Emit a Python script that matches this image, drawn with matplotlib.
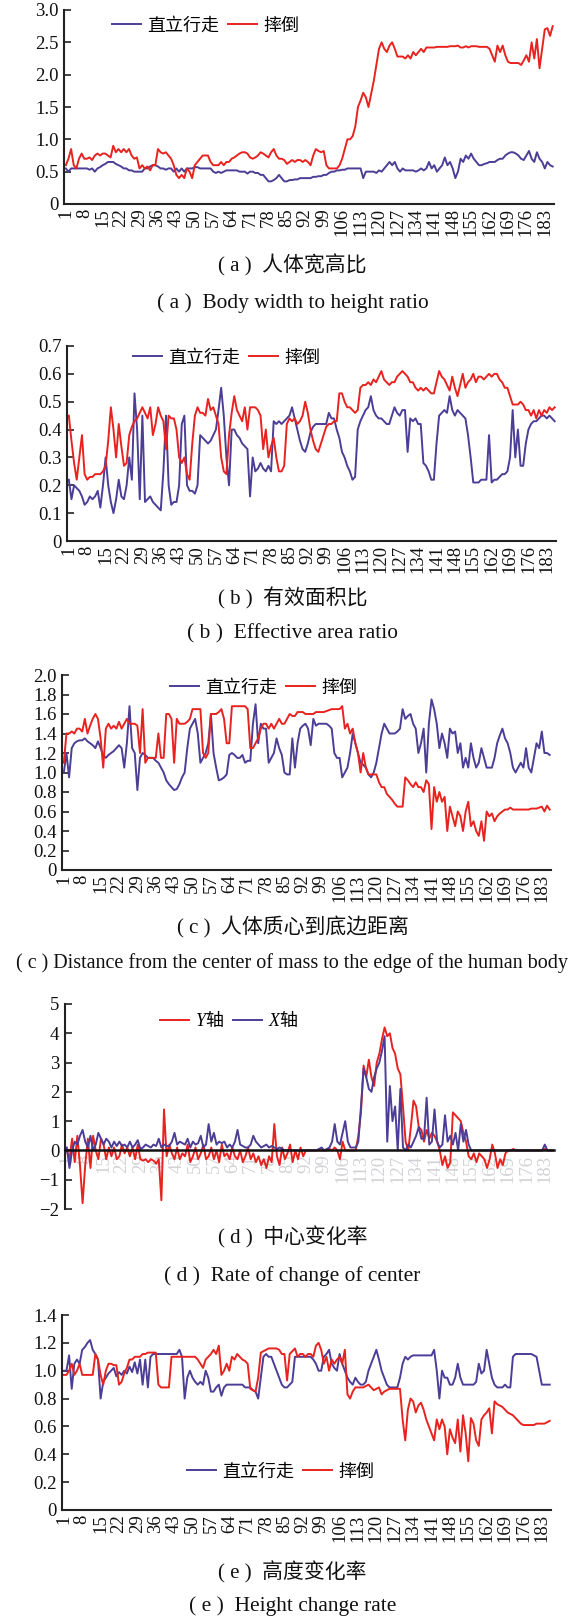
import numpy as np
import matplotlib
matplotlib.use("Agg")
import matplotlib.pyplot as plt
from matplotlib.ticker import FuncFormatter

plt.rcParams['font.family'] = ['Liberation Serif', 'Noto Sans CJK SC']
plt.rcParams['mathtext.fontset'] = 'custom'
plt.rcParams['mathtext.it'] = 'Liberation Serif:italic'
plt.rcParams['mathtext.rm'] = 'Noto Sans CJK SC'

# ---- data, one value per frame 1..186 ----
frame_ticks = [1, 8, 15, 22, 29, 36, 43, 50, 57, 64, 71, 78, 85, 92, 99,
               106, 113, 120, 127, 134, 141, 148, 155, 162, 169, 176, 183]

a_walk = [0.55, 0.5, 0.55, 0.55, 0.55, 0.55, 0.55,
          0.55, 0.55, 0.53, 0.55, 0.5, 0.55, 0.57,
          0.6, 0.62, 0.65, 0.65, 0.65, 0.62, 0.6,
          0.58, 0.55, 0.55, 0.52, 0.52, 0.5, 0.5,
          0.5, 0.5, 0.55, 0.55, 0.58, 0.6, 0.6,
          0.58, 0.55, 0.55, 0.53, 0.55, 0.55, 0.5,
          0.55, 0.5, 0.55, 0.5, 0.55, 0.55, 0.55,
          0.57, 0.57, 0.55, 0.55, 0.55, 0.55, 0.55,
          0.5, 0.48, 0.5, 0.48, 0.5, 0.52, 0.52,
          0.52, 0.52, 0.52, 0.5, 0.5, 0.5, 0.47,
          0.5, 0.5, 0.48, 0.48, 0.45, 0.45, 0.4,
          0.35, 0.35, 0.37, 0.4, 0.45, 0.4, 0.35,
          0.35, 0.37, 0.37, 0.38, 0.38, 0.4, 0.4,
          0.4, 0.4, 0.4, 0.42, 0.42, 0.43, 0.43,
          0.45, 0.45, 0.48, 0.5, 0.5, 0.52, 0.52,
          0.53, 0.53, 0.55, 0.55, 0.55, 0.55, 0.55,
          0.55, 0.4, 0.5, 0.5, 0.5, 0.5, 0.48,
          0.52, 0.5, 0.55, 0.6, 0.65, 0.6, 0.65,
          0.55, 0.5, 0.55, 0.52, 0.52, 0.52, 0.52,
          0.5, 0.52, 0.55, 0.52, 0.55, 0.65, 0.55,
          0.6, 0.5, 0.55, 0.6, 0.72, 0.6, 0.65,
          0.55, 0.4, 0.5, 0.7, 0.65, 0.75, 0.7,
          0.78, 0.7, 0.65, 0.6, 0.6, 0.62, 0.63,
          0.65, 0.65, 0.65, 0.68, 0.7, 0.7, 0.75,
          0.78, 0.8, 0.8, 0.78, 0.75, 0.7, 0.68,
          0.75, 0.82, 0.7, 0.65, 0.8, 0.7, 0.65,
          0.55, 0.65, 0.6, 0.58]
a_fall = [0.6, 0.7, 0.85, 0.6, 0.55, 0.7, 0.78,
          0.7, 0.7, 0.72, 0.68, 0.75, 0.78, 0.75,
          0.78, 0.78, 0.75, 0.72, 0.9, 0.8, 0.85,
          0.8, 0.85, 0.8, 0.85, 0.75, 0.7, 0.72,
          0.55, 0.6, 0.55, 0.58, 0.52, 0.6, 0.6,
          0.85, 0.8, 0.78, 0.8, 0.75, 0.7, 0.6,
          0.45, 0.4, 0.45, 0.4, 0.55, 0.5, 0.4,
          0.6, 0.65, 0.7, 0.75, 0.75, 0.75, 0.65,
          0.6, 0.6, 0.6, 0.65, 0.6, 0.65, 0.65,
          0.7, 0.72, 0.75, 0.78, 0.8, 0.8, 0.78,
          0.72, 0.7, 0.72, 0.75, 0.8, 0.78, 0.75,
          0.72, 0.8, 0.85, 0.75, 0.7, 0.7, 0.68,
          0.62, 0.65, 0.68, 0.65, 0.68, 0.68, 0.65,
          0.68, 0.65, 0.6, 0.75, 0.85, 0.82, 0.8,
          0.82, 0.6, 0.55, 0.55, 0.55, 0.55, 0.6,
          0.7, 0.85, 1.0, 1.0, 1.05, 1.2, 1.5,
          1.6, 1.72, 1.65, 1.5, 1.7, 1.9, 2.15,
          2.4, 2.5, 2.4, 2.35, 2.45, 2.5, 2.4,
          2.28, 2.28, 2.28, 2.25, 2.3, 2.25, 2.35,
          2.3, 2.35, 2.4, 2.35, 2.42, 2.42, 2.42,
          2.42, 2.43, 2.43, 2.43, 2.43, 2.43, 2.44,
          2.44, 2.44, 2.45, 2.42, 2.42, 2.44, 2.42,
          2.44, 2.44, 2.44, 2.43, 2.43, 2.43, 2.43,
          2.4, 2.3, 2.2, 2.45, 2.35, 2.45, 2.3,
          2.2, 2.18, 2.18, 2.18, 2.18, 2.15, 2.22,
          2.3, 2.2, 2.5, 2.25, 2.55, 2.1, 2.4,
          2.7, 2.72, 2.6, 2.75]

b_walk = [0.22, 0.15, 0.20, 0.19, 0.18, 0.16, 0.13,
          0.14, 0.16, 0.15, 0.16, 0.18, 0.12, 0.20,
          0.30, 0.20, 0.14, 0.10, 0.15, 0.22, 0.16,
          0.15, 0.20, 0.30, 0.22, 0.53, 0.40, 0.15,
          0.45, 0.14, 0.15, 0.16, 0.14, 0.13, 0.12,
          0.11, 0.25, 0.45, 0.20, 0.13, 0.14, 0.14,
          0.20, 0.42, 0.45, 0.20, 0.18, 0.18, 0.17,
          0.20, 0.38, 0.37, 0.36, 0.35, 0.36, 0.38,
          0.40, 0.47, 0.55, 0.45, 0.30, 0.20, 0.40,
          0.40, 0.38, 0.37, 0.35, 0.34, 0.33, 0.16,
          0.30, 0.25, 0.26, 0.28, 0.26, 0.25, 0.27,
          0.25, 0.43, 0.42, 0.43, 0.42, 0.43, 0.44,
          0.45, 0.48, 0.44, 0.40, 0.36, 0.33, 0.32,
          0.35, 0.39, 0.41, 0.42, 0.42, 0.42, 0.42,
          0.42, 0.46, 0.44, 0.44, 0.40, 0.37, 0.32,
          0.30, 0.27, 0.25, 0.22, 0.23, 0.40, 0.43,
          0.45, 0.47, 0.48, 0.52, 0.47, 0.45, 0.44,
          0.44, 0.43, 0.42, 0.42, 0.45, 0.48, 0.46,
          0.45, 0.47, 0.47, 0.32, 0.44, 0.43, 0.44,
          0.42, 0.42, 0.28, 0.27, 0.25, 0.22, 0.22,
          0.35, 0.45, 0.46, 0.47, 0.46, 0.52, 0.47,
          0.45, 0.47, 0.46, 0.45, 0.44, 0.38, 0.30,
          0.21, 0.21, 0.21, 0.22, 0.22, 0.22, 0.38,
          0.21, 0.22, 0.22, 0.23, 0.24, 0.24, 0.25,
          0.30, 0.47, 0.30, 0.40, 0.27, 0.27, 0.35,
          0.40, 0.42, 0.43, 0.43, 0.44, 0.45, 0.45,
          0.44, 0.45, 0.44, 0.43]
b_fall = [0.45, 0.36, 0.28, 0.22, 0.30, 0.38, 0.24,
          0.22, 0.23, 0.23, 0.24, 0.24, 0.24, 0.25,
          0.27, 0.36, 0.48, 0.40, 0.30, 0.42, 0.34,
          0.27, 0.28, 0.38, 0.41, 0.43, 0.44, 0.46,
          0.48, 0.46, 0.44, 0.48, 0.38, 0.42, 0.48,
          0.45, 0.43, 0.33, 0.45, 0.44, 0.44, 0.40,
          0.30, 0.28, 0.30, 0.24, 0.22, 0.35, 0.45,
          0.48, 0.46, 0.46, 0.45, 0.51, 0.47, 0.48,
          0.45, 0.42, 0.30, 0.25, 0.24, 0.38, 0.46,
          0.52, 0.47, 0.45, 0.43, 0.48, 0.40, 0.48,
          0.48, 0.48, 0.47, 0.45, 0.33, 0.40, 0.30,
          0.34, 0.37, 0.30, 0.25, 0.25, 0.27, 0.42,
          0.44, 0.43, 0.44, 0.42, 0.43, 0.45, 0.50,
          0.46, 0.40, 0.36, 0.33, 0.32, 0.35, 0.38,
          0.41, 0.42, 0.42, 0.43, 0.43, 0.53, 0.53,
          0.50, 0.48, 0.48, 0.47, 0.46, 0.47, 0.55,
          0.56, 0.56, 0.57, 0.56, 0.58, 0.57, 0.59,
          0.61, 0.58, 0.57, 0.56, 0.57, 0.57, 0.59,
          0.60, 0.61, 0.60, 0.59, 0.57, 0.57, 0.55,
          0.54, 0.55, 0.54, 0.55, 0.54, 0.53, 0.53,
          0.57, 0.61, 0.59, 0.58, 0.56, 0.54, 0.59,
          0.55, 0.52, 0.56, 0.60, 0.55, 0.57, 0.58,
          0.60, 0.57, 0.59, 0.59, 0.58, 0.59, 0.60,
          0.59, 0.60, 0.60, 0.58, 0.57, 0.55, 0.55,
          0.52, 0.49, 0.49, 0.49, 0.50, 0.49, 0.47,
          0.47, 0.45, 0.47, 0.44, 0.47, 0.45, 0.47,
          0.46, 0.48, 0.47, 0.48]

c_walk = [1.00, 1.20, 0.95, 1.25, 1.30, 1.32, 1.33,
          1.33, 1.35, 1.32, 1.30, 1.28, 1.25, 1.32,
          1.25, 1.18, 1.15, 1.18, 1.20, 1.22, 1.25,
          1.28, 1.25, 1.05, 1.30, 1.68, 1.25, 1.20,
          0.82, 1.15, 1.20, 1.18, 1.15, 1.15, 1.15,
          1.12, 1.10, 1.05, 1.00, 0.92, 0.88, 0.85,
          0.82, 0.83, 0.88, 0.95, 1.00, 1.25, 1.45,
          1.50, 1.55, 1.40, 1.10, 1.15, 1.20, 1.30,
          1.60, 1.20, 1.05, 0.92, 0.93, 0.95, 0.98,
          1.18, 1.20, 1.18, 1.15, 1.15, 1.18, 1.10,
          1.12, 1.12, 1.50, 1.70, 1.30, 1.50, 1.45,
          1.45, 1.10, 1.15, 1.20, 1.35, 1.25, 1.18,
          1.00, 0.98, 0.98, 1.35, 1.05, 1.30, 1.45,
          1.48, 1.50, 1.45, 1.28, 1.55, 1.48, 1.50,
          1.50, 1.50, 1.50, 1.48, 1.45, 1.20, 1.15,
          1.15, 0.95, 1.00, 1.05, 1.20, 1.40, 1.30,
          1.20, 1.10, 1.08, 1.05, 0.98, 0.95, 1.00,
          1.10, 1.25, 1.40, 1.50, 1.45, 1.40, 1.40,
          1.40, 1.42, 1.45, 1.65, 1.55, 1.58, 1.60,
          1.50, 1.45, 1.20, 1.30, 1.45, 1.00, 1.50,
          1.75, 1.65, 1.50, 1.25, 1.40, 1.30, 1.15,
          1.45, 1.40, 1.42, 1.20, 1.30, 1.05, 1.15,
          1.05, 1.30, 1.15, 1.05, 1.10, 1.25, 1.15,
          1.05, 1.05, 1.05, 1.15, 1.30, 1.38, 1.45,
          1.35, 1.30, 1.20, 1.05, 1.00, 1.05, 1.10,
          1.05, 1.25, 1.05, 1.00, 1.15, 1.30, 1.25,
          1.42, 1.20, 1.20, 1.18]
c_fall = [1.10, 1.40, 1.40, 1.42, 1.40, 1.45, 1.45,
          1.42, 1.55, 1.40, 1.48, 1.55, 1.60, 1.55,
          1.35, 1.05, 1.45, 1.50, 1.45, 1.48, 1.45,
          1.52, 1.45, 1.50, 1.55, 1.50, 1.50, 1.50,
          1.48, 1.20, 1.65, 1.10, 1.15, 1.15, 1.15,
          1.15, 1.40, 1.15, 1.15, 1.60, 1.60, 1.55,
          1.10, 1.55, 1.50, 1.50, 1.50, 1.52, 1.55,
          1.65, 1.65, 1.65, 1.65, 1.20, 1.15, 1.20,
          1.60, 1.60, 1.60, 1.62, 1.65, 1.55, 1.30,
          1.30, 1.68, 1.68, 1.68, 1.68, 1.68, 1.68,
          1.65, 1.25, 1.25, 1.30, 1.35, 1.45, 1.50,
          1.50, 1.45, 1.50, 1.45, 1.50, 1.55, 1.50,
          1.50, 1.55, 1.60, 1.58, 1.58, 1.62, 1.62,
          1.62, 1.60, 1.60, 1.60, 1.60, 1.62, 1.62,
          1.62, 1.62, 1.63, 1.64, 1.65, 1.65, 1.65,
          1.65, 1.68, 1.45, 1.50, 1.40, 1.45, 1.30,
          1.20, 1.00, 1.20, 1.05, 0.98, 0.98, 0.98,
          0.98, 0.90, 0.85, 0.85, 0.78, 0.75, 0.72,
          0.68, 0.65, 0.65, 0.65, 0.95, 0.92, 0.88,
          0.85, 0.90, 0.85, 0.85, 0.80, 0.92, 0.88,
          0.42, 0.85, 0.70, 0.80, 0.70, 0.75, 0.40,
          0.65, 0.55, 0.45, 0.60, 0.55, 0.40, 0.60,
          0.70, 0.45, 0.50, 0.40, 0.35, 0.50, 0.30,
          0.60, 0.55, 0.58, 0.50, 0.55, 0.58, 0.60,
          0.62, 0.62, 0.64, 0.62, 0.62, 0.62, 0.62,
          0.62, 0.62, 0.62, 0.63, 0.63, 0.63, 0.64,
          0.65, 0.60, 0.66, 0.62]

d_y = [0.0, -0.3, 0.4, -0.4, 0.5, -0.5, -1.8,
       -0.5, 0.4, -0.6, 0.5, 0.0, -0.3, 0.4,
       0.2, -0.3, 0.1, -0.2, 0.1, -0.3, -0.2,
       0.2, -0.1, 0.1, -0.2, 0.1, -0.3, 0.2,
       -0.3, -0.35, -0.3, -0.4, -0.3, -0.35, -0.45,
       -0.3, -1.7, 1.4, -0.2, 0.2, -0.1, -0.3,
       0.1, -0.3, -0.1, -0.2, 0.2, -0.4, -0.2,
       0.1, -0.3, -0.1, 0.2, -0.3, -0.2, 0.1,
       -0.3, 0.0, -0.4, 0.2, -0.2, -0.1, -0.3,
       0.1, -0.2, -0.3, 0.0, -0.4, -0.2, 0.1,
       -0.3, -0.1, -0.4, -0.2, -0.5, -0.3, -0.6,
       -0.2, -0.4, 0.9, -0.2, -0.5, 0.1, -0.3,
       -0.1, 0.2, -0.4, 0.0, -0.3, 0.1, -0.2,
       0.0, 0.0, 0.0, 0.0, 0.0, 0.0, 0.0,
       0.0, 0.0, 0.05, 0.0, 0.1, 0.0, -0.3,
       0.3, 0.0, 0.0, 0.0, 0.0, 0.0, 0.5,
       1.3, 2.9, 2.5, 3.1, 2.5, 2.2, 3.0,
       3.3, 3.8, 4.2, 3.9, 4.0, 3.5, 3.3,
       2.8, 2.6, 1.5, 0.3, 0.0, 0.8, 1.7,
       1.5, 0.8, 0.7, 0.3, 0.7, 0.4, 0.6,
       0.5, 0.3, 0.0, -0.5, -0.2, -0.6, -0.4,
       1.3, 1.2, 1.1, 1.0, 0.6, 0.3, -0.2,
       -0.3, -0.1, -0.4, -0.1, -0.2, -0.3, -0.6,
       -0.3, 0.2, -0.1, -0.6, -0.3, -0.5, -0.1,
       0.0, 0.0, 0.05, 0.0, 0.0, 0.0, 0.0,
       0.0, 0.0, 0.0, 0.0, 0.0, 0.0, 0.0,
       0.05, 0.0, 0.0, 0.0]
d_x = [0.1, -0.6, 0.0, 0.3, 0.2, 0.5, 0.7,
       0.3, 0.1, 0.5, 0.0, 0.2, 0.6, 0.4,
       0.2, 0.4, 0.3, 0.1, 0.3, 0.15, 0.3,
       0.15, 0.2, 0.1, 0.3, 0.1, 0.2, 0.35,
       0.05, 0.1, 0.2, 0.15, 0.1, 0.2, 0.15,
       0.4, 0.1, 0.2, 0.15, 0.15, 0.3, 0.6,
       0.2, 0.3, 0.25, 0.2, 0.4, 0.1, 0.3,
       0.2, 0.25, 0.5, 0.1, 0.2, 0.9, 0.3,
       0.6, 0.2, 0.3, 0.25, 0.3, 0.1, 0.2,
       0.1, 0.3, 0.7, 0.2, 0.15, 0.1, 0.1,
       0.2, 0.5, 0.3, 0.2, 0.1, 0.15, 0.2,
       0.1, 0.15, 0.1, 0.05, 0.1, 0.05, 0.0,
       0.0, 0.0, 0.0, 0.0, 0.0, 0.0, 0.0,
       0.0, 0.0, 0.0, 0.0, 0.0, 0.05, 0.1,
       0.0, 0.05, 0.1, 0.3, 0.9, 0.3, 0.2,
       0.6, 1.0, 0.3, 0.1, 0.1, 0.1, 0.3,
       1.5, 2.8, 2.5, 2.1, 2.0, 2.5, 2.8,
       3.0, 3.4, 3.9, 0.3, 2.2, 1.0, 1.5,
       0.0, 2.1, 0.1, 0.0, 0.2, 0.1, 0.3,
       0.5, 0.8, 0.4, 0.4, 1.8, 0.2, 0.3,
       1.4, 0.3, 0.1, 0.2, 1.2, 0.3, 0.5,
       0.2, 0.6, 0.0, 0.9, 0.3, 0.7, 0.2,
       0.0, 0.0, 0.0, 0.0, 0.0, 0.0, 0.0,
       0.0, 0.0, 0.0, 0.0, 0.0, 0.0, 0.0,
       0.0, 0.0, 0.0, 0.0, 0.0, 0.0, 0.0,
       0.0, 0.0, 0.0, 0.0, 0.0, 0.0, 0.0,
       0.2, 0.0, 0.0, 0.0]

e_walk = [1.0, 1.0, 1.11, 0.87, 1.05, 1.08, 1.05,
          1.15, 1.17, 1.2, 1.22, 1.15, 1.12, 1.08,
          0.8, 0.92, 0.95, 0.98, 1.0, 1.02, 0.96,
          0.99, 0.97, 1.0, 0.98, 1.03, 0.99, 1.06,
          0.98, 1.08, 0.9, 1.08, 0.88, 1.1, 1.12,
          1.12, 1.12, 1.12, 1.12, 1.12, 1.12, 1.12,
          1.12, 1.12, 1.15, 1.1, 0.8, 0.95, 1.0,
          0.95, 0.92, 0.9, 0.92, 0.9, 1.0, 0.95,
          0.85, 0.85, 0.88, 0.9, 0.82, 0.88, 0.9,
          0.9, 0.9, 0.9, 0.9, 0.9, 0.9, 0.88,
          0.88, 0.88, 0.86, 0.85, 0.8, 0.95, 1.1,
          1.12, 1.1, 1.1, 1.05, 1.0, 0.95, 0.9,
          0.88, 0.88, 0.9, 0.92, 1.1, 1.1, 1.1,
          1.1, 1.1, 1.1, 1.1, 1.08, 1.05, 1.0,
          1.0, 1.1, 1.12, 1.15, 1.05, 1.02, 1.0,
          1.12, 1.05, 1.0, 0.95, 0.92, 0.9, 0.95,
          0.92, 0.9, 0.9, 0.92, 1.0, 1.05, 1.1,
          1.15, 1.08, 1.0, 0.95, 0.9, 0.88, 0.88,
          0.88, 0.88, 0.95, 1.05, 1.1, 1.08, 1.1,
          1.11, 1.11, 1.11, 1.11, 1.11, 1.11, 1.11,
          1.11, 1.15, 1.0, 0.8, 1.0, 0.95, 0.95,
          0.9, 0.9, 0.95, 1.05, 0.95, 0.9, 0.9,
          0.9, 0.9, 0.9, 0.92, 1.05, 0.98, 1.0,
          1.15, 1.05, 0.95, 0.9, 0.88, 0.88, 0.88,
          0.9, 0.88, 0.88, 1.1, 1.12, 1.12, 1.12,
          1.12, 1.12, 1.12, 1.12, 1.11, 1.1, 1.0,
          0.9, 0.9, 0.9, 0.9]
e_fall = [0.97, 0.97, 1.0, 1.05, 0.97, 1.0, 1.05,
          0.97, 0.97, 0.97, 0.97, 0.97, 1.12, 1.08,
          0.97, 0.9, 1.0, 1.05, 1.05, 1.04, 1.04,
          0.9, 0.92, 0.98, 1.02, 1.08, 1.08, 1.1,
          1.1, 1.1, 1.12, 1.12, 1.13, 1.13, 1.13,
          1.13, 0.9, 0.88, 0.88, 0.88, 0.88, 1.1,
          1.1, 1.1, 1.1, 1.1, 1.1, 1.1, 1.1,
          1.1, 1.1, 1.08, 1.05, 1.02, 1.08, 1.1,
          1.12, 1.15, 1.12, 1.18, 0.97, 1.0, 1.05,
          1.0, 1.1, 1.08, 1.12, 1.1, 1.08, 1.07,
          1.05, 0.87, 0.86, 0.85, 0.95, 1.13, 1.14,
          1.15, 1.16, 1.16, 1.16, 1.16, 1.15, 1.12,
          1.12, 0.93, 1.12, 1.14, 1.16, 1.1, 1.12,
          1.12, 1.1, 1.12, 1.12, 1.1, 1.18, 1.2,
          1.15, 1.05, 1.1, 1.0, 1.08, 1.05, 1.08,
          1.1, 1.05, 1.15, 0.83, 0.8, 0.85, 0.88,
          0.88, 0.88, 0.88, 0.89, 0.9, 0.88, 0.86,
          0.87, 0.88, 0.83, 0.85, 0.86, 0.87, 0.87,
          0.87, 0.87, 0.87, 0.65, 0.5, 0.72, 0.8,
          0.78, 0.7, 0.75, 0.77, 0.72, 0.65, 0.6,
          0.55, 0.5, 0.65, 0.58, 0.65, 0.6, 0.4,
          0.58, 0.52, 0.48, 0.65, 0.42, 0.68, 0.55,
          0.35, 0.66, 0.62, 0.5, 0.46, 0.65, 0.68,
          0.7, 0.73, 0.55, 0.78, 0.76, 0.75, 0.74,
          0.72, 0.7, 0.69, 0.68, 0.66, 0.64, 0.62,
          0.61, 0.61, 0.61, 0.61, 0.61, 0.62, 0.62,
          0.62, 0.62, 0.63, 0.64]

BLUE = '#4c3d96'
RED = '#e8231f'
CN = ['Liberation Serif', 'Noto Sans CJK SC']

W, H = 585, 1618
fig = plt.figure(figsize=(W / 100, H / 100), dpi=100)


def px_axes(left, right, top, bottom):
    # box given in pixels of the final image
    return fig.add_axes([left / W, 1 - bottom / H, (right - left) / W, (bottom - top) / H])


def fmt1(v, pos):
    if abs(v) < 1e-9:
        return '0'
    return '%.1f' % v


def fmt_int(v, pos):
    return ('%d' % round(v)).replace('-', '\u2212')


def style(ax, ylo, yhi, ystep, fmt, zero_axis=False, faint=False):
    if zero_axis:
        # must come first, moving the spine resets the tick labels
        ax.spines['bottom'].set_position(('data', 0))
    frames = np.arange(1, len(a_walk) + 1)
    ax.set_xlim(0.3, frames[-1] + 0.5)
    ax.set_ylim(ylo, yhi)
    ax.set_yticks(np.arange(ylo, yhi + ystep / 2, ystep))
    ax.yaxis.set_major_formatter(FuncFormatter(fmt))
    ax.set_xticks(frame_ticks)
    ax.set_xticklabels([str(t) for t in frame_ticks], rotation=90, fontsize=13.5,
                       color='#d2d2d6' if faint else '#111111')
    ax.tick_params(axis='x', length=0, pad=3)
    ax.tick_params(axis='y', direction='in', length=5, width=1.1, labelsize=13.5, pad=4,
                   colors='#111111')
    for s in ['top', 'right']:
        ax.spines[s].set_visible(False)
    for s in ['left', 'bottom']:
        ax.spines[s].set_linewidth(1.5)
        ax.spines[s].set_color('#222222')
    ax.patch.set_alpha(0)


def legend(ax, x, y):
    ax.legend(loc='center left', bbox_to_anchor=(x / W, 1 - y / H),
              bbox_transform=fig.transFigure, ncol=2, frameon=False,
              prop={'family': CN, 'size': 13}, handlelength=1.6,
              handletextpad=0.35, columnspacing=0.5, borderpad=0, borderaxespad=0)


def caption(y, text, size=15):
    fig.text(0.5, 1 - y / H, text, ha='center', va='center', fontsize=size, family=CN,
             color='#111111')


frames = np.arange(1, len(a_walk) + 1)

# (a)
ax = px_axes(64, 554, 10, 204)
ax.plot(frames, a_walk, color=BLUE, lw=1.4, label='直立行走')
ax.plot(frames, a_fall, color=RED, lw=1.4, label='摔倒')
style(ax, 0, 3.0, 0.5, fmt1)
legend(ax, 112, 26)
caption(265, '( a )  人体宽高比')
caption(303, '( a )  Body width to height ratio', 15.4)

# (b)
ax = px_axes(67, 556, 346, 541)
ax.plot(frames, b_walk, color=BLUE, lw=1.4, label='直立行走')
ax.plot(frames, b_fall, color=RED, lw=1.4, label='摔倒')
style(ax, 0, 0.7, 0.1, fmt1)
legend(ax, 133, 358)
caption(598, '( b )  有效面积比')
caption(634, '( b )  Effective area ratio', 15.4)

# (c)
ax = px_axes(62, 551, 675, 870)
ax.plot(frames, c_walk, color=BLUE, lw=1.4, label='直立行走')
ax.plot(frames, c_fall, color=RED, lw=1.4, label='摔倒')
style(ax, 0, 2.0, 0.2, fmt1)
legend(ax, 170, 688)
caption(927, '( c )  人体质心到底边距离')
caption(963, '( c ) Distance from the center of mass to the edge of the human body', 14.5)

# (d)
ax = px_axes(65, 554, 1004, 1209)
ax.plot(frames, d_y, color=RED, lw=1.4, label='$Y\\mathrm{轴}$')
ax.plot(frames, d_x, color=BLUE, lw=1.4, label='$X\\mathrm{轴}$')
style(ax, -2, 5, 1, fmt_int, zero_axis=True, faint=True)
ax.spines['bottom'].set_color('#111111')
ax.spines['bottom'].set_linewidth(1.8)
legend(ax, 160, 1020)
caption(1237, '( d )  中心变化率')
caption(1276, '( d )  Rate of change of center', 15.4)

# (e)
ax = px_axes(62, 551, 1315, 1510)
ax.plot(frames, e_walk, color=BLUE, lw=1.4, label='直立行走')
ax.plot(frames, e_fall, color=RED, lw=1.4, label='摔倒')
style(ax, 0, 1.4, 0.2, fmt1)
legend(ax, 187, 1472)
caption(1572, '( e )  高度变化率')
caption(1606, '( e )  Height change rate', 15.4)

fig.savefig('out.png', dpi=100)
